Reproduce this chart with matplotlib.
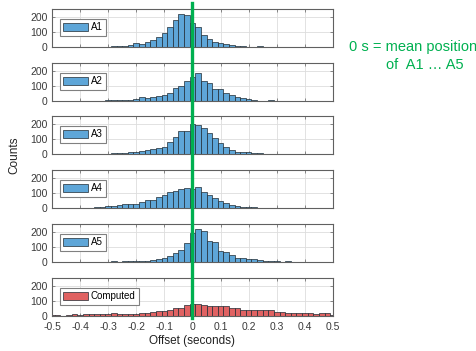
import numpy as np
import matplotlib
matplotlib.use("Agg")
import matplotlib.pyplot as plt
from matplotlib.lines import Line2D
from matplotlib.transforms import blended_transform_factory

plt.rcParams['font.family'] = ['Liberation Sans', 'DejaVu Sans']

# -----------------------------
# Data: histogram counts, 51 bins of 0.02 s centred on -0.5 ... 0.5
# -----------------------------
bin_width = 0.02
centers = np.round(np.linspace(-0.5, 0.5, 51), 2)

a1 = [0, 0, 1, 1, 0, 1, 1, 2, 2, 3,
      3, 4, 5, 8, 15, 24, 20, 33, 44, 67,
      91, 133, 178, 215, 211, 160, 133, 80, 50, 34,
      25, 20, 16, 9, 5, 3, 2, 4, 1, 1,
      0, 1, 0, 1, 1, 0, 0, 0, 0, 0, 0]
a2 = [0, 1, 0, 1, 2, 1, 1, 2, 3, 3,
      4, 5, 6, 8, 10, 16, 27, 20, 27, 36,
      42, 53, 89, 102, 133, 160, 187, 133, 116, 79,
      77, 55, 38, 28, 22, 11, 5, 3, 3, 4,
      3, 2, 3, 2, 1, 2, 1, 1, 0, 1, 0]
a3 = [0, 0, 0, 0, 1, 0, 1, 1, 2, 3,
      3, 5, 6, 8, 11, 13, 20, 24, 36, 38,
      47, 80, 113, 150, 155, 200, 191, 170, 140, 105,
      75, 50, 30, 17, 13, 11, 10, 8, 3, 2,
      1, 1, 1, 2, 1, 0, 0, 0, 0, 0, 0]
a4 = [1, 1, 2, 1, 2, 4, 2, 3, 6, 8,
      11, 13, 18, 25, 30, 27, 38, 52, 51, 73,
      87, 104, 116, 125, 133, 129, 138, 105, 85, 70,
      48, 33, 22, 14, 10, 7, 5, 4, 3, 1,
      1, 1, 0, 0, 0, 0, 0, 0, 0, 0, 0]
a5 = [0, 0, 0, 0, 0, 0, 0, 1, 1, 2,
      2, 3, 2, 3, 4, 4, 5, 7, 11, 16,
      24, 38, 60, 80, 122, 193, 214, 203, 138, 130,
      70, 66, 46, 27, 27, 20, 18, 11, 7, 5,
      3, 2, 3, 1, 2, 1, 1, 1, 1, 0, 0]
computed = [3, 3, 2, 4, 10, 8, 10, 10, 11, 10,
            12, 16, 14, 12, 15, 13, 17, 22, 27, 31,
            33, 36, 51, 53, 72, 80, 80, 70, 66, 66,
            62, 62, 52, 55, 42, 38, 42, 42, 38, 36,
            29, 29, 22, 20, 20, 22, 20, 13, 16, 22, 9]

series = [a1, a2, a3, a4, a5, computed]
labels = ["A1", "A2", "A3", "A4", "A5", "Computed"]
xticks = [-0.5, -0.4, -0.3, -0.2, -0.1, 0, 0.1, 0.2, 0.3, 0.4, 0.5]
xticklabels = ["-0.5", "-0.4", "-0.3", "-0.2", "-0.1", "0", "0.1", "0.2", "0.3", "0.4", "0.5"]

blue = "#5ea6d8"
red = "#e06262"
green = "#00b050"
axis_col = "#606060"

# -----------------------------
# Layout
# -----------------------------
fig = plt.figure(figsize=(4.77, 3.51), dpi=100, facecolor="white")

left, width, height = 0.109, 0.589, 0.108
bottoms = [0.866, 0.712, 0.561, 0.407, 0.254, 0.100]

axes = []
for i, (vals, lab) in enumerate(zip(series, labels)):
    ax = fig.add_axes([left, bottoms[i], width, height])
    axes.append(ax)
    color = red if lab == "Computed" else blue
    ax.bar(centers, vals, width=bin_width, color=color,
           edgecolor="#1f2a33", linewidth=0.5, label=lab, zorder=2)

    ax.set_xlim(-0.5, 0.5)
    ax.set_ylim(0, 250)
    ax.set_yticks([0, 100, 200])
    ax.set_xticks(xticks)
    ax.grid(True, color="#dddddd", linewidth=0.6, zorder=0)
    ax.set_axisbelow(True)
    ax.tick_params(direction="in", length=2, width=0.5, top=True, right=True,
                   labelsize=7.5, colors=axis_col, labelcolor="#3a3a3a", pad=3)
    ax.tick_params(axis="x", pad=4.5)
    for sp in ax.spines.values():
        sp.set_color(axis_col)
        sp.set_linewidth(0.8)

    if i < 5:
        ax.set_xticklabels([])
    else:
        ax.set_xticklabels(xticklabels)
        ax.set_xlabel("Offset (seconds)", fontsize=8.5, color="#222222", labelpad=2)

    leg = ax.legend(loc="upper left", bbox_to_anchor=(0.028, 0.74),
                    borderaxespad=0, fontsize=7, fancybox=False, framealpha=1,
                    handlelength=2.5, handleheight=0.95, handletextpad=0.3,
                    borderpad=0.35)
    leg.get_frame().set_edgecolor("#808080")
    leg.get_frame().set_linewidth(0.8)

fig.text(0.03, 0.558, "Counts", rotation=90, ha="center", va="center",
         fontsize=8.5, color="#222222")

# Green zero line across all panels
trans = blended_transform_factory(axes[-1].transData, fig.transFigure)
fig.add_artist(Line2D([0, 0], [0.094, 0.991], transform=trans,
                      color=green, linewidth=2.4, zorder=10))

fig.text(0.866, 0.867, "0 s = mean position", ha="center", va="center",
         fontsize=10.5, color=green)
fig.text(0.89, 0.816, "of  A1 \u2026 A5", ha="center", va="center",
         fontsize=10.5, color=green)

plt.savefig("out.png", dpi=100)
